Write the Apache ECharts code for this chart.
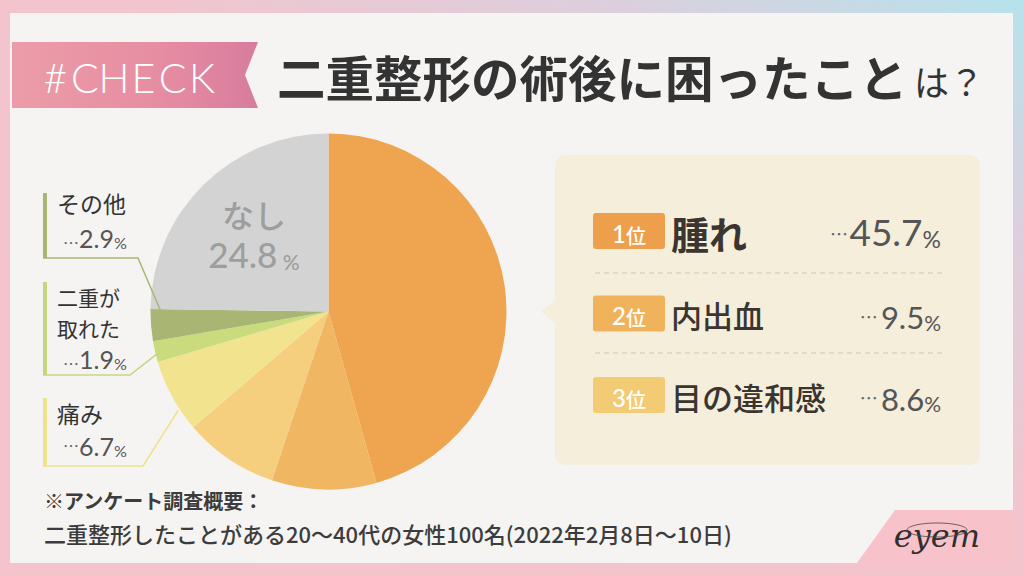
<!DOCTYPE html>
<html><head><meta charset="utf-8">
<script src="https://cdn.jsdelivr.net/npm/echarts@6/dist/echarts.min.js"></script>
<style>html,body{margin:0;padding:0;background:#f5f4f2}#c{width:1024px;height:576px}</style>
</head><body><div id="c"></div>
<script>
// ---- data ----
const categories = ['腫れ','内出血','目の違和感','痛み','二重が取れた','その他','なし'];
const values = [45.7, 9.5, 8.6, 6.7, 1.9, 2.9, 24.8];
const sliceColors = ['#EFA450','#F0B661','#F5CF7E','#F2E48F','#C9DB7D','#A9B673','#D3D3D3'];
const rankLabels = ['1','2','3'];
const rankIdx = [0, 1, 2];
const sideIdx = [5, 4, 3];
const sideNames = ['その他', '二重が\n取れた', '痛み'];
const titleMain = '二重整形の術後に困ったこと';
const titleTail = 'は？';
const tagText = '#CHECK';
const noteLines = ['※アンケート調査概要：', '二重整形したことがある20～40代の女性100名(2022年2月8日～10日)'];

// ---- layout / style ----
const CX = 328.5, CY = 311.5, R = 178;
const JP = '"Noto Sans CJK JP", "Noto Sans", sans-serif';
const NUM = 'Lato, "Noto Sans", sans-serif';
const badgeColors = ['#EE9F4C', '#F0B35C', '#F3CB75'];
const sideColors = ['#A9B673', '#C5D77E', '#EDE38A'];
const sideBoxes = [ // bar top/bottom, elbow x, anchor fraction within slice, radius factor, text positions, dots
  {top: 193, bottom: 258, elbow: 138, f: 0.9, k: 0.94, nameTop: 188, nameSize: 23, lh: 29, valY: 237, dots: '…'},
  {top: 282, bottom: 375, elbow: 130, f: 0.38, k: 0.99, nameTop: 281, nameSize: 21, lh: 31, valY: 358, dots: '…'},
  {top: 398, bottom: 466, elbow: 143, f: 0.3, k: 1.01, nameTop: 398, nameSize: 23, lh: 29, valY: 445, dots: '⋯'}
];
const rowY = [231, 313.5, 395];

const total = values.reduce((a, b) => a + b, 0);
const cumStart = [];
values.reduce((acc, v, i) => { cumStart[i] = acc; return acc + v; }, 0);
function anchor(i, f, k) {
  const a = (cumStart[i] + values[i] * f) / total * 2 * Math.PI;
  return [CX + R * k * Math.sin(a), CY - R * k * Math.cos(a)];
}

const els = [];
// frame
els.push({type: 'rect', z: -20, shape: {x: 0, y: 0, width: 1024, height: 576},
  style: {fill: new echarts.graphic.LinearGradient(0, 1, 1, 0, [
    {offset: 0, color: '#F5C3CB'}, {offset: 0.55, color: '#F3C4CD'}, {offset: 0.8, color: '#DCCFDD'}, {offset: 1, color: '#B5E3EC'}])}});
els.push({type: 'rect', z: -19, shape: {x: 10, y: 13, width: 1003, height: 550}, style: {fill: '#F5F4F2'}});
els.push({type: 'polygon', z: -18, shape: {points: [[895, 510], [1013, 510], [1013, 563], [857, 563]]}, style: {fill: '#F8C2CA'}});
// ribbon
els.push({type: 'polygon', z: -17, shape: {points: [[12, 42], [258, 42], [245, 75], [258, 108], [12, 108]]},
  style: {fill: new echarts.graphic.LinearGradient(0, 0, 1, 0, [
    {offset: 0, color: '#EC9CA8'}, {offset: 0.6, color: '#E68DA2'}, {offset: 1, color: '#D87C9E'}])}});
// tag text with letter spacing (evenly spaced glyph centres)
tagText.split('').forEach((ch, i) => {
  els.push({type: 'text', z: 10, style: {text: ch, x: 55.5 + i * 29.3, y: 77, align: 'center', verticalAlign: 'middle',
    fill: '#ffffff', font: '300 41px ' + NUM}});
});
// title
els.push({type: 'text', z: 10, style: {x: 277, y: 76, verticalAlign: 'middle', text: titleMain,
  font: '700 48.5px ' + JP, fill: '#333333'}});
els.push({type: 'text', z: 10, style: {x: 914, y: 80, verticalAlign: 'middle', text: titleTail,
  font: '400 35px ' + JP, fill: '#333333'}});
// right panel
els.push({type: 'rect', z: -10, shape: {x: 555, y: 155, width: 425, height: 310, r: 10}, style: {fill: '#F4EEDA'}});
els.push({type: 'polygon', z: -10, shape: {points: [[556, 299], [541, 311.5], [556, 324]]}, style: {fill: '#F4EEDA'}});
rankIdx.forEach((ci, r) => {
  const y = rowY[r];
  els.push({type: 'rect', z: 10, shape: {x: 593, y: y - 18, width: 72, height: 36, r: 3}, style: {fill: badgeColors[r]}});
  els.push({type: 'text', z: 11, style: {x: 629, y: y, align: 'center', verticalAlign: 'middle',
    text: '{n|' + rankLabels[r] + '}{w|位}',
    rich: {n: {font: '500 24px ' + NUM, fill: '#fff', lineHeight: 28, verticalAlign: 'bottom'},
           w: {font: '500 20px ' + JP, fill: '#fff', lineHeight: 28, verticalAlign: 'bottom'}}}});
  const big = r === 0;
  els.push({type: 'text', z: 11, style: {x: 671, y: y + 1, verticalAlign: 'middle', text: categories[ci],
    fill: '#3A3530', font: (big ? '700 38px ' : '500 31px ') + JP}});
  els.push({type: 'text', z: 11, style: {x: 941, y: y + 2, align: 'right', verticalAlign: 'middle',
    text: '{d|⋯}{g| }{v|' + values[ci].toFixed(1) + '}{p|%}',
    rich: {d: {font: '400 18px ' + JP, fill: '#666', lineHeight: 34, verticalAlign: 'middle'},
           g: {font: '400 ' + (big ? 6 : 12) + 'px ' + NUM, lineHeight: 34, verticalAlign: 'bottom'},
           v: {font: '400 ' + (big ? 37 : 31) + 'px ' + NUM, fill: '#555', lineHeight: 34, verticalAlign: 'bottom'},
           p: {font: '400 ' + (big ? 23 : 21) + 'px ' + NUM, fill: '#555', lineHeight: 30, verticalAlign: 'bottom'}}}});
});
[273, 353].forEach(y => els.push({type: 'line', z: 10, shape: {x1: 595, y1: y, x2: 942, y2: y},
  style: {stroke: '#CFC7B5', lineWidth: 1, lineDash: [5, 4]}}));
// side labels
sideIdx.forEach((ci, s) => {
  const b = sideBoxes[s];
  const p = anchor(ci, b.f, b.k);
  els.push({type: 'line', z: 10, shape: {x1: 45, y1: b.top, x2: 45, y2: b.bottom}, style: {stroke: sideColors[s], lineWidth: 4}});
  els.push({type: 'polyline', z: 10, shape: {points: [[43, b.bottom], [b.elbow, b.bottom], p]},
    style: {stroke: sideColors[s], lineWidth: 1.5, fill: null}});
  els.push({type: 'text', z: 10, style: {x: 57, y: b.nameTop, verticalAlign: 'top', text: sideNames[s],
    fill: '#333', font: '400 ' + b.nameSize + 'px ' + JP, lineHeight: b.lh}});
  els.push({type: 'text', z: 10, style: {x: 63, y: b.valY, verticalAlign: 'middle',
    text: '{d|' + b.dots + '}{v|' + values[ci].toFixed(1) + '}{p|%}',
    rich: {d: {font: '400 16px ' + JP, fill: '#666', lineHeight: 24, verticalAlign: b.dots === '…' ? 'bottom' : 'middle'},
           v: {font: '400 25px ' + NUM, fill: '#555', lineHeight: 26, verticalAlign: 'bottom'},
           p: {font: '400 16px ' + NUM, fill: '#555', lineHeight: 22, verticalAlign: 'bottom'}}}});
});
// note
els.push({type: 'text', z: 10, style: {x: 44, y: 500, verticalAlign: 'middle', text: noteLines[0], fill: '#3c3c3c', font: '700 20px ' + JP}});
els.push({type: 'text', z: 10, style: {x: 44, y: 533, verticalAlign: 'middle', text: noteLines[1], fill: '#3c3c3c', font: '500 22px ' + JP}});
// logo
els.push({type: 'text', z: 10, style: {x: 937, y: 536, align: 'center', verticalAlign: 'middle', text: 'eyem',
  fill: '#2f2f2f', font: 'italic 400 32px "DejaVu Serif", serif'}});
els.push({type: 'ellipse', z: 10, shape: {cx: 937, cy: 530, rx: 30, ry: 7}, style: {stroke: '#444', lineWidth: 0.8, fill: null}});

const chart = echarts.init(document.getElementById('c'), null, {renderer: 'svg'});
chart.setOption({
  animation: false,
  backgroundColor: '#F5F4F2',
  graphic: {elements: els},
  series: [{
    type: 'pie', center: [CX, CY], radius: R, startAngle: 90, clockwise: true,
    avoidLabelOverlap: false, silent: true, z: 2,
    itemStyle: {borderWidth: 0},
    label: {show: false}, labelLine: {show: false},
    emphasis: {disabled: true},
    data: categories.map((c, i) => ({
      name: c, value: values[i], itemStyle: {color: sliceColors[i]},
      label: i === 6 ? {
        show: true, position: 'inside', offset: [-10, -14],
        formatter: '{n|' + c + '}\n{v|' + values[i].toFixed(1) + '}{p| %}',
        rich: {n: {fontFamily: JP, fontWeight: 500, fontSize: 32, color: '#9E9E9E', lineHeight: 44, align: 'center'},
               v: {fontFamily: NUM, fontWeight: 500, fontSize: 35, color: '#9E9E9E', lineHeight: 36, verticalAlign: 'bottom'},
               p: {fontFamily: NUM, fontWeight: 500, fontSize: 21, color: '#9E9E9E', lineHeight: 30, verticalAlign: 'bottom'}}
      } : {show: false}
    }))
  }]
});
</script></body></html>
